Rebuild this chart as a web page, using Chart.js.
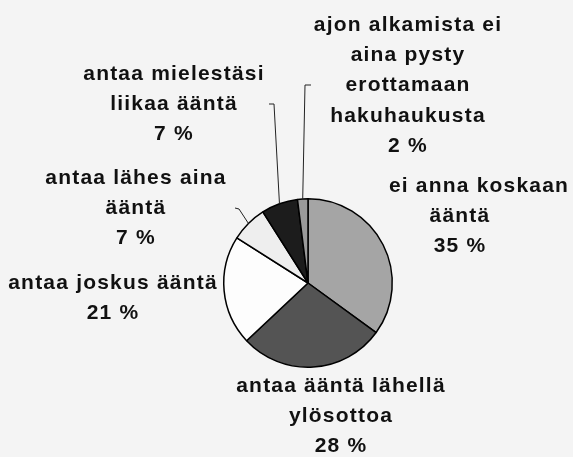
<!DOCTYPE html>
<html>
<head>
<meta charset="utf-8">
<script src="https://cdn.jsdelivr.net/npm/chart.js@4"></script>
<style>
  html, body { margin: 0; padding: 0; background: #f4f4f4; }
  #wrap { width: 573px; height: 457px; }
</style>
</head>
<body>
<div id="wrap"><canvas id="piirakka" width="573" height="457"></canvas></div>
<script>
// Vastausvaihtoehdot ja osuudet (%)
const kategoriat = [
  "ei anna koskaan\nääntä",
  "antaa ääntä lähellä\nylösottoa",
  "antaa joskus ääntä",
  "antaa lähes aina\nääntä",
  "antaa mielestäsi\nliikaa ääntä",
  "ajon alkamista ei\naina pysty\nerottamaan\nhakuhaukusta"
];
const osuudet = [35, 28, 21, 7, 7, 2];
const varit = ["#a5a5a5", "#545454", "#fdfdfd", "#eeeeee", "#1c1c1c", "#9a9a9a"];

// Tekstien paikat (keskikohta, ensimmäisen rivin y, ensimmäisen rivin oma x)
const tekstiPaikat = [
  { x: 460, y: 186, x1: 479 },
  { x: 341, y: 386 },
  { x: 113, y: 283 },
  { x: 136, y: 178 },
  { x: 174, y: 74 },
  { x: 408, y: 25 }
];
// viivojen taitekohdat
const viivat = {
  3: [[235, 208], [239, 209]],
  4: [[269, 104], [274, 104]],
  5: [[311, 85], [305, 85]]
};

const selitteet = {
  id: 'selitteet',
  afterDraw(chart) {
    const ctx = chart.ctx;
    const meta = chart.getDatasetMeta(0);
    ctx.save();
    // viivat
    ctx.strokeStyle = '#222';
    ctx.lineWidth = 1;
    Object.keys(viivat).forEach(i => {
      const arc = meta.data[i];
      const kulma = (arc.startAngle + arc.endAngle) / 2;
      const ex = arc.x + Math.cos(kulma) * arc.outerRadius;
      const ey = arc.y + Math.sin(kulma) * arc.outerRadius;
      const p = viivat[i];
      ctx.beginPath();
      ctx.moveTo(p[0][0], p[0][1]);
      for (let k = 1; k < p.length; k++) ctx.lineTo(p[k][0], p[k][1]);
      ctx.lineTo(ex, ey);
      ctx.stroke();
    });
    // tekstit
    ctx.fillStyle = '#111';
    ctx.font = 'bold 21px "Liberation Sans", Arial, sans-serif';
    ctx.letterSpacing = '1.2px';
    ctx.textAlign = 'center';
    ctx.textBaseline = 'middle';
    kategoriat.forEach((k, i) => {
      const rivit = k.split('\n').concat(osuudet[i] + ' %');
      const pos = tekstiPaikat[i];
      rivit.forEach((r, j) => {
        const x = (j === 0 && pos.x1) ? pos.x1 : pos.x;
        ctx.fillText(r, x, pos.y + j * 30.3);
      });
    });
    ctx.restore();
  }
};

new Chart(document.getElementById('piirakka'), {
  type: 'pie',
  data: {
    labels: kategoriat,
    datasets: [{
      data: osuudet,
      backgroundColor: varit,
      borderColor: '#000',
      borderWidth: 1.5
    }]
  },
  options: {
    responsive: false,
    animation: false,
    layout: { padding: { top: 198, bottom: 89, left: 223, right: 180 } },
    plugins: {
      legend: { display: false },
      tooltip: { enabled: false }
    }
  },
  plugins: [selitteet]
});
</script>
</body>
</html>
